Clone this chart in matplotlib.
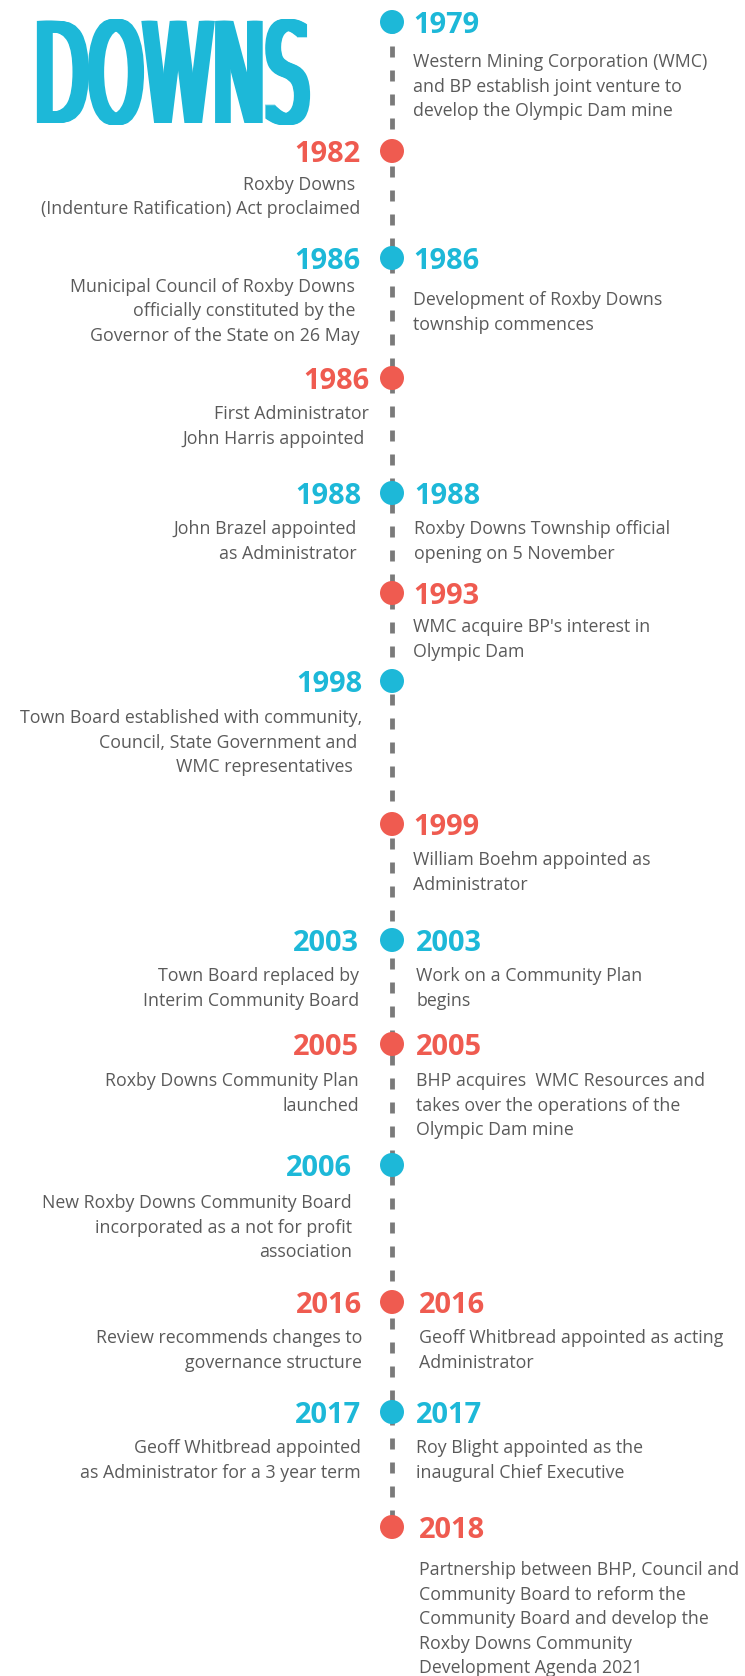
import matplotlib
matplotlib.use("Agg")
import matplotlib.pyplot as plt
from matplotlib.patheffects import AbstractPathEffect
from matplotlib.transforms import Affine2D

# ---------------- data ----------------
years = ["1979", "1982", "1986", "1986", "1988", "1993", "1998",
         "1999", "2003", "2005", "2006", "2016", "2017", "2018"]
groups = ["blue", "red", "blue", "red", "blue", "red", "blue",
          "red", "blue", "red", "blue", "red", "blue", "red"]
left_text = [
    None,
    "Roxby Downs \n(Indenture Ratification) Act proclaimed",
    "Municipal Council of Roxby Downs \nofficially constituted by the \nGovernor of the State on 26 May",
    "First Administrator\nJohn Harris appointed ",
    "John Brazel appointed \nas Administrator ",
    None,
    "Town Board established with community,\nCouncil, State Government and \nWMC representatives  ",
    None,
    "Town Board replaced by\nInterim Community Board",
    "Roxby Downs Community Plan\nlaunched",
    "New Roxby Downs Community Board\nincorporated as a not for profit\nassociation",
    "Review recommends changes to\ngovernance structure",
    "Geoff Whitbread appointed\nas Administrator for a 3 year term",
    None,
]
right_text = [
    "Western Mining Corporation (WMC)\nand BP establish joint venture to\ndevelop the Olympic Dam mine",
    None,
    "Development of Roxby Downs\ntownship commences",
    None,
    "Roxby Downs Township official\nopening on 5 November",
    "WMC acquire BP's interest in\nOlympic Dam",
    None,
    "William Boehm appointed as\nAdministrator",
    "Work on a Community Plan\nbegins",
    "BHP acquires  WMC Resources and\ntakes over the operations of the\nOlympic Dam mine",
    None,
    "Geoff Whitbread appointed as acting\nAdministrator",
    "Roy Blight appointed as the\ninaugural Chief Executive",
    "Partnership between BHP, Council and\nCommunity Board to reform the\nCommunity Board and develop the\nRoxby Downs Community\nDevelopment Agenda 2021",
]
title = "DOWNS"

# ---------------- layout (pixels) ----------------
W, H = 745, 1676
row_y = [22, 151, 258, 378, 493, 593, 681, 824, 940, 1044, 1165, 1302, 1412, 1527]
desc_off_left = [41, 39, 34, 41, 41, 41, 42, 41, 41, 42, 43, 41, 41, 41]
desc_off_right = [45, 41, 47, 41, 41, 39, 41, 41, 41, 42, 41, 41, 41, 48]
shift_left = [0, 0, 0, 9, 1, 0, 2, 0, -1, -1, -8, 2, 1, 0]
shift_right = [0, 0, 0, 0, 1, 0, 0, 0, 3, 3, 0, 6, 3, 6]
line_x = 392
year_left_x = 360
desc_left_x = 360
year_right_x = 413
desc_right_x = 413
line_step = 24.5

palette = {"blue": "#1DB8D8", "red": "#EF5B50"}
text_gray = "#5A5A5A"
line_gray = "#7A7A7A"


class Condensed(AbstractPathEffect):
    """Stretch the glyphs vertically and widen stems horizontally."""

    def __init__(self, sy, smear):
        super().__init__()
        self.sy, self.smear = sy, smear

    def draw_path(self, renderer, gc, tpath, affine, rgbFace=None):
        for dx in range(self.smear + 1):
            aff = (Affine2D().scale(1.0, self.sy) + affine
                   + Affine2D().translate(dx, 0))
            gc0 = renderer.new_gc()
            gc0.copy_properties(gc)
            gc0.set_linewidth(0)
            renderer.draw_path(gc0, tpath, aff, rgbFace)
            gc0.restore()


plt.rcParams["lines.scale_dashes"] = False
fig = plt.figure(figsize=(W / 100, H / 100), dpi=100)
fig.patch.set_facecolor("white")
ax = fig.add_axes([0, 0, 1, 1])
ax.set_xlim(0, W)
ax.set_ylim(H, 0)
ax.axis("off")

px = 72 / 100  # points per pixel

# dashed spine
ax.plot([line_x, line_x], [row_y[0], row_y[-1]], color=line_gray,
        lw=4.8 * px, dashes=(11 * px, 13 * px), solid_capstyle="butt",
        dash_capstyle="butt", zorder=1)

# dots
ax.scatter([line_x] * len(row_y), row_y, s=(24 * px) ** 2,
           c=[palette[g] for g in groups], linewidths=0, zorder=3)

year_fs = 29 * px
desc_fs = 17.8 * px

for i, yr in enumerate(years):
    col = palette[groups[i]]
    y = row_y[i]
    if left_text[i] is not None:
        xl = year_left_x + shift_left[i]
        ax.text(xl, y + 11, yr, ha="right", va="baseline",
                fontsize=year_fs, fontweight="bold", family="Open Sans",
                color=col)
        for k, ln in enumerate(left_text[i].split("\n")):
            ax.text(desc_left_x + shift_left[i],
                    y + desc_off_left[i] + k * line_step, ln,
                    ha="right", va="baseline", fontsize=desc_fs,
                    family="Open Sans", color=text_gray)
    if right_text[i] is not None:
        xr = year_right_x + shift_right[i]
        ax.text(xr, y + 11, yr, ha="left", va="baseline",
                fontsize=year_fs, fontweight="bold", family="Open Sans",
                color=col)
        for k, ln in enumerate(right_text[i].split("\n")):
            ax.text(desc_right_x + shift_right[i],
                    y + desc_off_right[i] + k * line_step, ln,
                    ha="left", va="baseline", fontsize=desc_fs,
                    family="Open Sans", color=text_gray)

# title (horizontal metrics at 70 px, stretched to a 140 px cap body)
ax.text(30, 123, title, ha="left", va="baseline", fontsize=70 * px,
        fontweight="normal", family="DejaVu Sans", color=palette["blue"],
        path_effects=[Condensed(140 / 70, 9)])

fig.savefig("out.png", dpi=100, facecolor="white")
